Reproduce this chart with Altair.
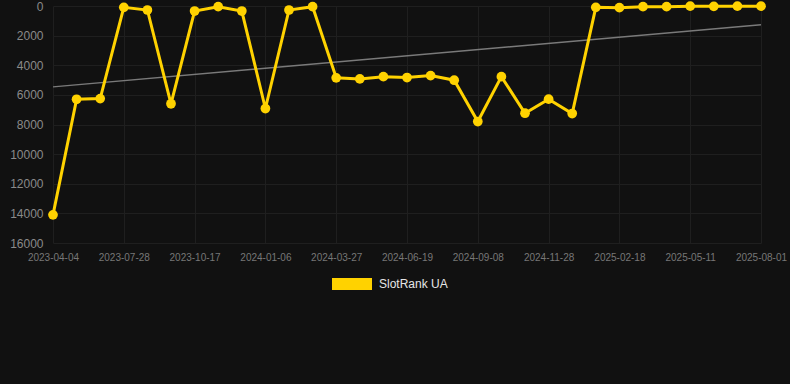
import altair as alt
import pandas as pd

dates = [
    "2023-04-04", "2023-05-12", "2023-06-20", "2023-07-28", "2023-08-24", "2023-09-20",
    "2023-10-17", "2023-11-13", "2023-12-10", "2024-01-06", "2024-02-02", "2024-02-29",
    "2024-03-27", "2024-04-24", "2024-05-22", "2024-06-19", "2024-07-16", "2024-08-12",
    "2024-09-08", "2024-10-05", "2024-11-01", "2024-11-28", "2024-12-25", "2025-01-22",
    "2025-02-18", "2025-03-17", "2025-04-14", "2025-05-11", "2025-06-07", "2025-07-05",
    "2025-08-01",
]
ranks = [
    14100, 6300, 6250, 90, 270, 6600, 340, 45, 340, 6920,
    270, 45, 4850, 4920, 4770, 4830, 4700, 5010, 7800, 4770,
    7240, 6290, 7260, 90, 110, 45, 45, 10, 25, 10,
    10,
]
label_dates = dates[::3]
series_name = "SlotRank UA"

trend_dates = ["2023-04-04", "2025-08-01"]
trend_values = [5460, 1260]

df = pd.DataFrame({"date": dates, "rank": ranks, "series": series_name})
tdf = pd.DataFrame({"date": trend_dates, "rank": trend_values})

font = "Liberation Sans"
yellow = "#FFD200"
grid = "#1f1f1f"

x_enc = alt.X(
    "date:O",
    sort=dates,
    scale=alt.Scale(type="point", domain=dates, padding=0),
    axis=alt.Axis(
        values=label_dates, labelAngle=0, labelAlign="center", labelFlush=False,
        labelOverlap=False, ticks=False, domain=False, grid=True,
        labelColor="#777777", labelFontSize=10, labelPadding=9,
        gridColor=grid, title=None, labelFont=font,
    ),
)
y_enc = alt.Y(
    "rank:Q",
    scale=alt.Scale(domain=[0, 16000], reverse=True, nice=False),
    axis=alt.Axis(
        values=list(range(0, 16001, 2000)), format="d", ticks=False, domain=False,
        labelOverlap=False, labelFlush=False, grid=True,
        labelColor="#8a8a8a", labelFontSize=12, labelPadding=10,
        gridColor=grid, title=None, labelFont=font,
    ),
)

trend = alt.Chart(tdf).mark_line(strokeWidth=1.5, color="#7a7a7a").encode(x=x_enc, y=y_enc)

line = alt.Chart(df).mark_line(strokeWidth=3, color=yellow).encode(x=x_enc, y=y_enc)

points = alt.Chart(df).mark_circle(size=95, opacity=1).encode(
    x=x_enc,
    y=y_enc,
    color=alt.Color(
        "series:N",
        scale=alt.Scale(domain=[series_name], range=[yellow]),
        legend=alt.Legend(
            title=None, orient="none", legendX=279, legendY=258, direction="horizontal",
            symbolType="M-1,-0.3L1,-0.3L1,0.3L-1,0.3Z", symbolSize=1600,
            symbolStrokeWidth=0, symbolOpacity=1, padding=0,
            labelColor="#e6e6e6", labelFontSize=12, labelFont=font, labelOffset=7,
        ),
    ),
)

chart = alt.layer(trend, line, points).properties(
    width=708, height=237, background="#111111",
    autosize=alt.AutoSizeParams(type="none"),
    padding={"left": 53, "top": 6, "right": 29, "bottom": 141},
).configure_view(stroke=None)

chart.save("out.html", embed_options={"renderer": "svg", "actions": False})
